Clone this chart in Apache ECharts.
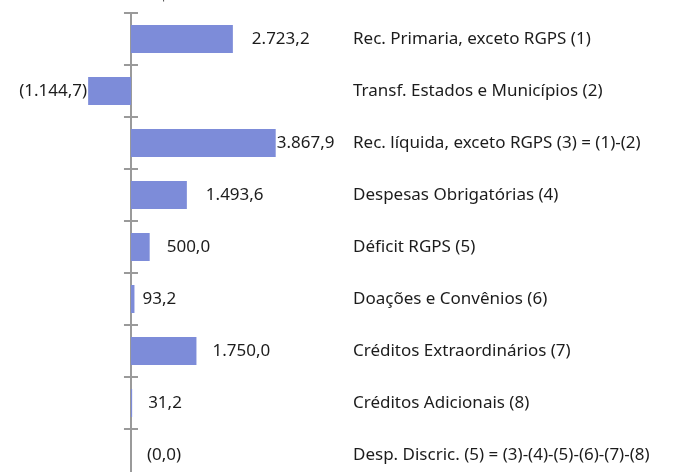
<!DOCTYPE html>
<html>
<head>
<meta charset="utf-8">
<script src="https://cdn.jsdelivr.net/npm/echarts@6/dist/echarts.min.js"></script>
<style>
  html, body { margin: 0; padding: 0; background: #fff; }
  #chart { width: 676px; height: 472px; }
</style>
</head>
<body>
<div id="chart"></div>
<script>
const categories = [
  'Rec. Primaria, exceto RGPS (1)',
  'Transf. Estados e Municípios (2)',
  'Rec. líquida, exceto RGPS (3) = (1)-(2)',
  'Despesas Obrigatórias (4)',
  'Déficit RGPS (5)',
  'Doações e Convênios (6)',
  'Créditos Extraordinários (7)',
  'Créditos Adicionais (8)',
  'Desp. Discric. (5) = (3)-(4)-(5)-(6)-(7)-(8)'
];
const values = [2723.2, -1144.7, 3867.9, 1493.6, 500.0, 93.2, 1750.0, 31.2, 0.0];

// distance between bar end and its label (px), as in the picture
const labelGap = [19, 1, 1, 19, 17, 8, 16, 16, 16];

// 1234.5 -> "1.234,5", negatives and the last (result) row in parentheses
function fmt(v, i) {
  const s = Math.abs(v).toFixed(1).split('.');
  const txt = s[0].replace(/\B(?=(\d{3})+(?!\d))/g, '.') + ',' + s[1];
  return (v < 0 || i === values.length - 1) ? '(' + txt + ')' : txt;
}

const chart = echarts.init(document.getElementById('chart'));

const axisGrey = '#9a9a9a';
const zeroX = 131; // where 0 falls inside the grid (grid left = 0)

chart.setOption({
  backgroundColor: '#fff',
  animation: false,
  graphic: [{
    type: 'text',
    left: 20,
    top: -13,
    style: { text: '–         Bimestre – R$ milhões', font: '16px "Noto Sans"', fill: '#555' }
  }],
  // the last row runs past the bottom edge of the picture
  grid: { left: 0, width: 348, top: 13, height: 468, containLabel: false, outerBoundsMode: 'none' },
  xAxis: {
    type: 'value',
    min: -3500,
    max: 5800,
    show: false
  },
  yAxis: [
    {
      type: 'category',
      data: categories,
      inverse: true,
      axisLine: { onZero: true, lineStyle: { color: axisGrey, width: 2 } },
      axisTick: { show: true, length: 7, lineStyle: { color: axisGrey, width: 2 } },
      axisLabel: { show: false }
    },
    {
      type: 'category',
      data: categories,
      inverse: true,
      position: 'left',
      offset: -zeroX,
      axisLine: { show: false, onZero: false },
      axisTick: { show: true, inside: true, length: 7, lineStyle: { color: axisGrey, width: 2 } },
      axisLabel: { show: false }
    },
    {
      type: 'category',
      data: categories,
      inverse: true,
      position: 'right',
      axisLine: { show: false, onZero: false },
      axisTick: { show: false },
      axisLabel: { margin: 5, align: 'left', fontFamily: 'Noto Sans', fontSize: 17, color: '#1c1c1c' }
    }
  ],
  series: [{
    type: 'bar',
    barWidth: 28,
    data: values.map((v, i) => ({
      value: v,
      label: {
        show: true,
        position: v < 0 ? 'left' : 'right',
        distance: labelGap[i],
        formatter: () => fmt(v, i),
        fontFamily: 'Noto Sans',
        fontSize: 17,
        color: '#1c1c1c'
      }
    })),
    itemStyle: { color: '#7d8cd9' }
  }]
});
</script>
</body>
</html>
